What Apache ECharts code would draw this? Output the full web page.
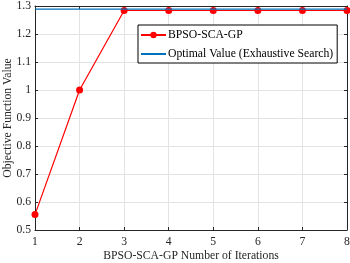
<!DOCTYPE html>
<html>
<head>
<meta charset="utf-8">
<script src="https://cdn.jsdelivr.net/npm/echarts@6/dist/echarts.min.js"></script>
<style>
  html, body { margin: 0; padding: 0; background: #fff; }
  #chart { width: 350px; height: 263px; }
</style>
</head>
<body>
<div id="chart"></div>
<script>
  let iterations = [1, 2, 3, 4, 5, 6, 7, 8]
  let bpsoValues = [0.555, 1.0, 1.284, 1.284, 1.284, 1.284, 1.284, 1.284]
  let optimalValues = [1.289, 1.289, 1.289, 1.289, 1.289, 1.289, 1.289, 1.289]
  let yTicks = [0.5, 0.6, 0.7, 0.8, 0.9, 1, 1.1, 1.2, 1.3]

  let font = 'Liberation Serif'
  let fontSize = 11.7
  let axisColor = '#262626'

  let myChart = echarts.init(document.getElementById('chart'))
  let frameAxis = {
    axisLine: {show: true, lineStyle: {color: axisColor, width: 1}},
    axisTick: {show: true, inside: true, length: 3, lineStyle: {color: axisColor}},
    axisLabel: {show: false},
    splitLine: {show: false}
  }
  let option = {
    animation: false,
    grid: {left: 35, right: 3, top: 6, bottom: 33, containLabel: false, outerBoundsMode: 'none'},
    legend: {
      data: [
        {name: 'BPSO-SCA-GP'},
        {name: 'Optimal Value (Exhaustive Search)'}
      ],
      orient: 'vertical',
      left: 138,
      top: 25,
      itemWidth: 25,
      itemHeight: 8,
      itemGap: 7,
      padding: [4, 4, 3, 2],
      borderColor: '#000',
      borderWidth: 1,
      backgroundColor: '#fff',
      textStyle: {fontFamily: font, fontSize: fontSize, color: '#000', padding: [0, 0, 0, -3]}
    },
    xAxis: [
      {
        type: 'value',
        min: 1,
        max: 8,
        interval: 1,
        name: 'BPSO-SCA-GP Number of Iterations',
        nameLocation: 'middle',
        nameGap: 20,
        nameMoveOverlap: false,
        nameTextStyle: {fontFamily: font, fontSize: fontSize, color: axisColor},
        axisLine: {lineStyle: {color: axisColor}},
        axisTick: {inside: true, length: 3, lineStyle: {color: axisColor}},
        axisLabel: {fontFamily: font, fontSize: fontSize, color: axisColor, margin: 6},
        splitLine: {show: true, lineStyle: {color: '#e3e3e3'}}
      },
      Object.assign({type: 'value', position: 'top', min: 1, max: 8, interval: 1}, frameAxis)
    ],
    yAxis: [
      {
        type: 'value',
        min: 0.5,
        max: 1.3,
        interval: 0.1,
        name: 'Objective Function Value',
        nameLocation: 'middle',
        nameGap: 21,
        nameMoveOverlap: false,
        nameTextStyle: {fontFamily: font, fontSize: fontSize, color: axisColor},
        axisLine: {show: true, lineStyle: {color: axisColor}},
        axisTick: {show: true, inside: true, length: 3, lineStyle: {color: axisColor}},
        axisLabel: {
          fontFamily: font, fontSize: fontSize, color: axisColor, margin: 4,
          formatter: function (v) {
            let r = Math.round(v * 10) / 10
            return yTicks.indexOf(r) >= 0 ? String(r) : ''
          }
        },
        splitLine: {show: true, lineStyle: {color: '#e3e3e3'}}
      },
      Object.assign({type: 'value', position: 'right', min: 0.5, max: 1.3, interval: 0.1}, frameAxis)
    ],
    series: [
      {
        name: 'BPSO-SCA-GP',
        type: 'line',
        data: iterations.map((x, i) => [x, bpsoValues[i]]),
        symbol: 'circle',
        symbolSize: 7,
        itemStyle: {color: '#ff0000'},
        lineStyle: {color: '#ff0000', width: 1.2},
        z: 3
      },
      {
        name: 'Optimal Value (Exhaustive Search)',
        type: 'line',
        data: iterations.map((x, i) => [x, optimalValues[i]]),
        symbol: 'circle',
        showSymbol: false,
        itemStyle: {color: '#0072bd', opacity: 0},
        lineStyle: {color: '#0072bd', width: 1.2},
        z: 4
      }
    ]
  }
  myChart.setOption(option)
</script>
</body>
</html>
